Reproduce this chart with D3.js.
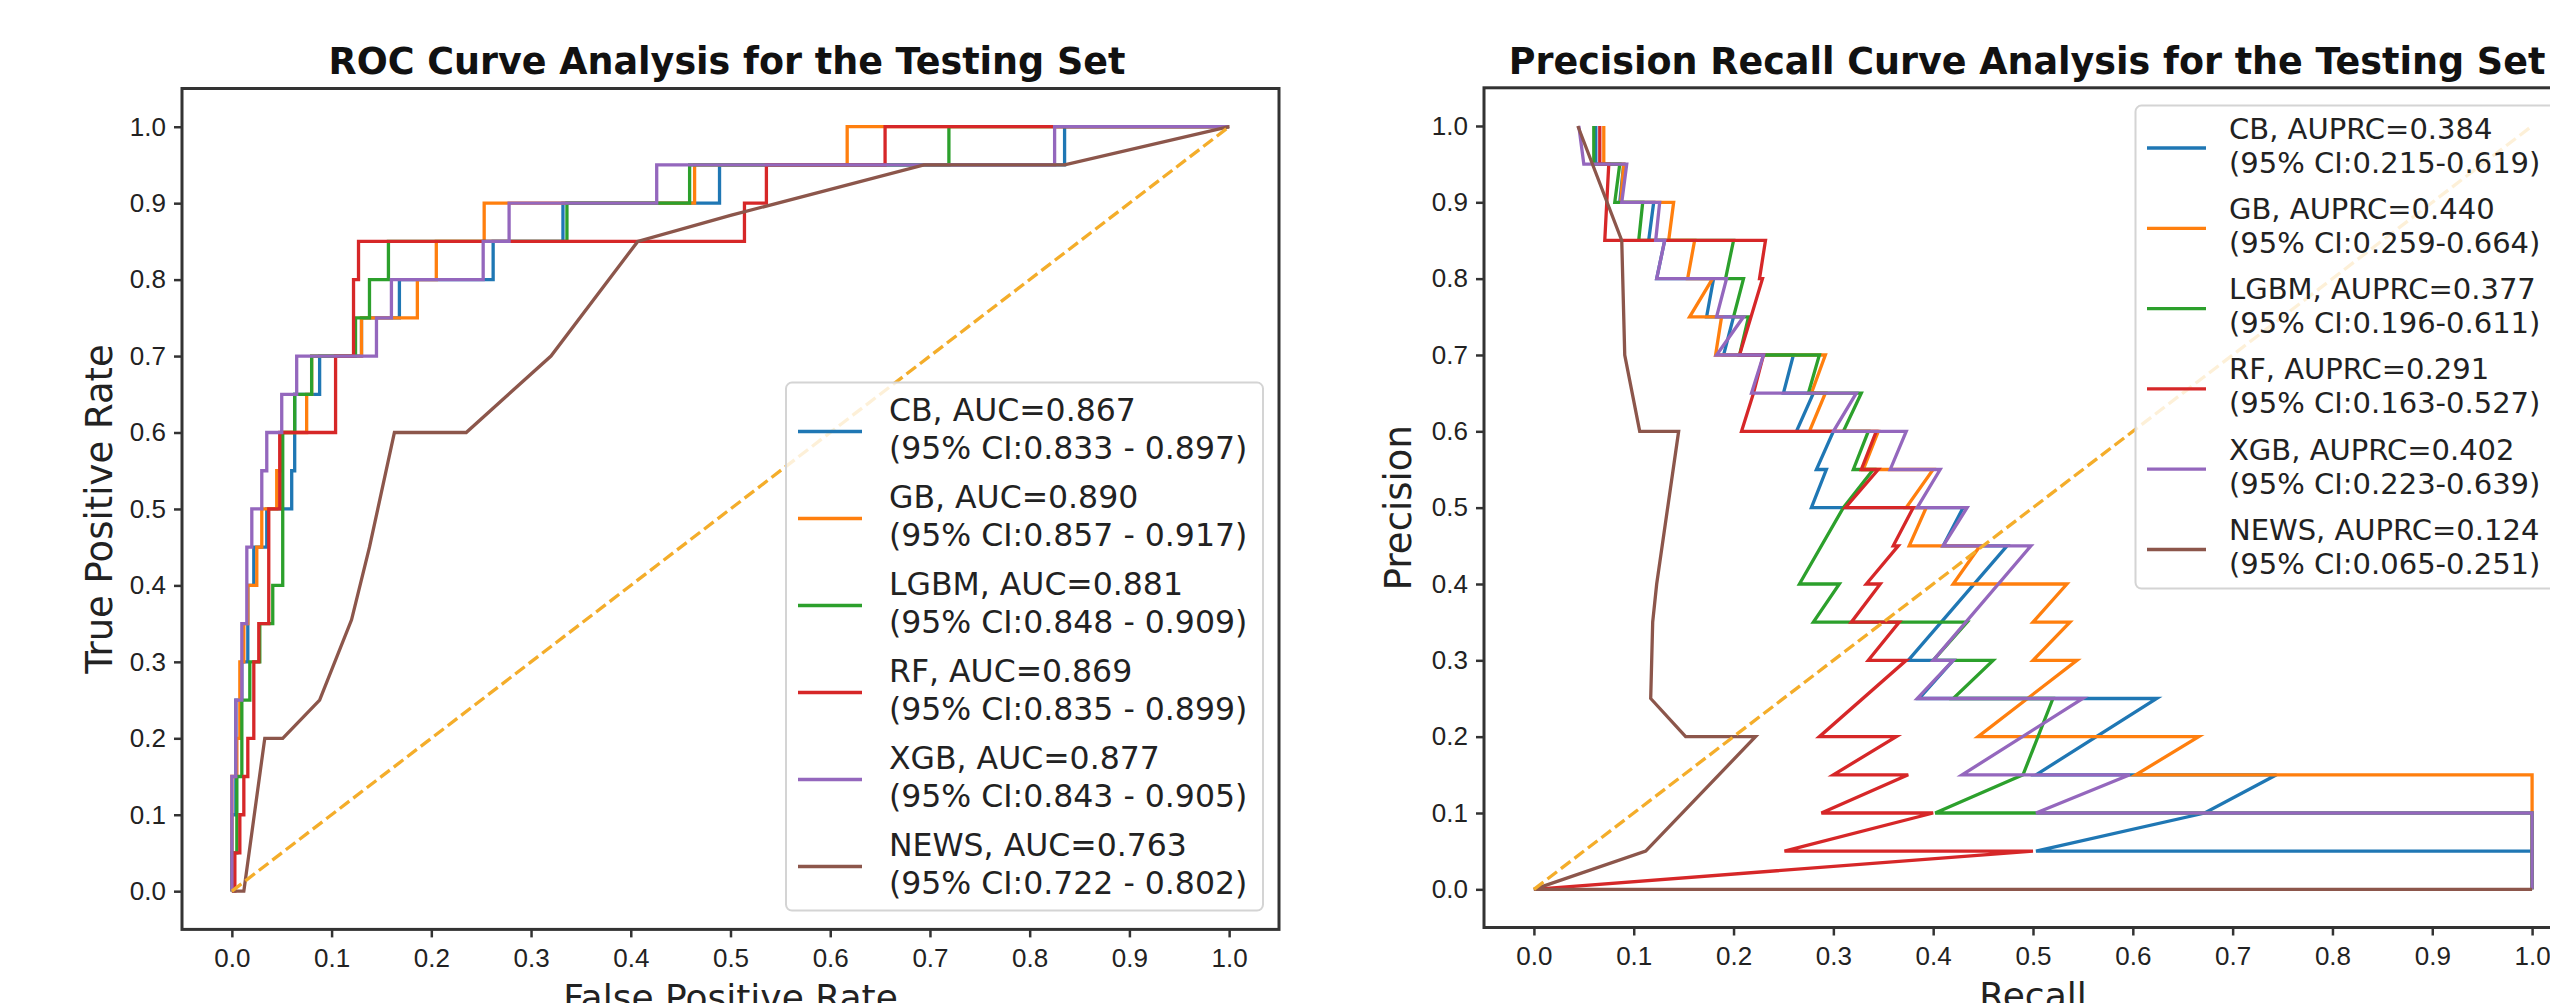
<!DOCTYPE html>
<html>
<head>
<meta charset="utf-8">
<script src="https://cdn.jsdelivr.net/npm/d3@7"></script>
<style>
  body { margin: 0; background: #fff; }
  svg { display: block; font-family: "DejaVu Sans", sans-serif; }
</style>
</head>
<body>
<svg id="chart" width="2550" height="1003"></svg>
<script>
'use strict';

// ROC curves, [fpr, tpr]
const rocCB = [[0,0],[0,0.1],[0.004,0.1],[0.004,0.25],[0.01,0.25],[0.01,0.3],[0.016,0.3],[0.016,0.4],[0.022,0.4],[0.022,0.45],[0.035,0.45],[0.035,0.5],[0.06,0.5],[0.06,0.55],[0.063,0.55],[0.063,0.65],[0.088,0.65],[0.088,0.7],[0.13,0.7],[0.13,0.75],[0.168,0.75],[0.168,0.8],[0.262,0.8],[0.262,0.85],[0.332,0.85],[0.332,0.9],[0.489,0.9],[0.489,0.95],[0.835,0.95],[0.835,1],[1,1]];
const rocGB = [[0,0],[0,0.15],[0.005,0.15],[0.005,0.2],[0.008,0.2],[0.008,0.3],[0.012,0.3],[0.012,0.35],[0.016,0.35],[0.016,0.4],[0.025,0.4],[0.025,0.45],[0.03,0.45],[0.03,0.5],[0.045,0.5],[0.045,0.55],[0.05,0.55],[0.05,0.6],[0.075,0.6],[0.075,0.65],[0.08,0.65],[0.08,0.7],[0.13,0.7],[0.13,0.75],[0.186,0.75],[0.186,0.8],[0.205,0.8],[0.205,0.85],[0.253,0.85],[0.253,0.9],[0.464,0.9],[0.464,0.95],[0.617,0.95],[0.617,1],[1,1]];
const rocLGBM = [[0,0],[0,0.05],[0.005,0.05],[0.005,0.15],[0.01,0.15],[0.01,0.25],[0.018,0.25],[0.018,0.3],[0.028,0.3],[0.028,0.35],[0.041,0.35],[0.041,0.4],[0.051,0.4],[0.051,0.6],[0.063,0.6],[0.063,0.65],[0.08,0.65],[0.08,0.7],[0.124,0.7],[0.124,0.75],[0.138,0.75],[0.138,0.8],[0.157,0.8],[0.157,0.85],[0.336,0.85],[0.336,0.9],[0.459,0.9],[0.459,0.95],[0.719,0.95],[0.719,1],[1,1]];
const rocRF = [[0,0],[0.003,0],[0.003,0.05],[0.008,0.05],[0.008,0.1],[0.012,0.1],[0.012,0.15],[0.016,0.15],[0.016,0.2],[0.022,0.2],[0.022,0.3],[0.027,0.3],[0.027,0.35],[0.037,0.35],[0.037,0.5],[0.048,0.5],[0.048,0.6],[0.104,0.6],[0.104,0.7],[0.122,0.7],[0.122,0.8],[0.127,0.8],[0.127,0.85],[0.514,0.85],[0.514,0.9],[0.536,0.9],[0.536,0.95],[0.655,0.95],[0.655,1],[1,1]];
const rocXGB = [[0,0],[0,0.15],[0.004,0.15],[0.004,0.25],[0.01,0.25],[0.01,0.35],[0.015,0.35],[0.015,0.45],[0.02,0.45],[0.02,0.5],[0.03,0.5],[0.03,0.55],[0.035,0.55],[0.035,0.6],[0.05,0.6],[0.05,0.65],[0.065,0.65],[0.065,0.7],[0.145,0.7],[0.145,0.75],[0.16,0.75],[0.16,0.8],[0.252,0.8],[0.252,0.85],[0.278,0.85],[0.278,0.9],[0.426,0.9],[0.426,0.95],[0.825,0.95],[0.825,1],[1,1]];
const rocNEWS = [[0,0],[0.012,0],[0.033,0.2],[0.051,0.2],[0.088,0.25],[0.12,0.355],[0.138,0.45],[0.163,0.6],[0.235,0.6],[0.32,0.7],[0.407,0.85],[0.5,0.884],[0.694,0.95],[0.835,0.95],[1,1]];

// Precision recall curves, [recall, precision]
const prCB = [[0.062,1],[0.062,0.95],[0.09,0.95],[0.086,0.9],[0.12,0.9],[0.115,0.85],[0.131,0.85],[0.123,0.8],[0.18,0.8],[0.173,0.75],[0.2,0.75],[0.19,0.7],[0.26,0.7],[0.25,0.65],[0.28,0.65],[0.263,0.6],[0.3,0.6],[0.283,0.55],[0.293,0.55],[0.278,0.5],[0.43,0.5],[0.41,0.45],[0.474,0.45],[0.375,0.3],[0.42,0.3],[0.386,0.25],[0.624,0.25],[0.503,0.15],[0.744,0.15],[0.672,0.1],[0.503,0.05],[1,0.05],[1,0]];
const prGB = [[0.07,1],[0.07,0.95],[0.09,0.95],[0.087,0.9],[0.14,0.9],[0.135,0.85],[0.161,0.85],[0.154,0.8],[0.179,0.8],[0.156,0.75],[0.188,0.75],[0.182,0.7],[0.292,0.7],[0.278,0.65],[0.292,0.65],[0.276,0.6],[0.345,0.6],[0.33,0.55],[0.4,0.55],[0.373,0.5],[0.393,0.5],[0.376,0.45],[0.447,0.45],[0.42,0.4],[0.534,0.4],[0.5,0.35],[0.537,0.35],[0.5,0.3],[0.544,0.3],[0.445,0.2],[0.666,0.2],[0.603,0.15],[1,0.15],[1,0]];
const prLGBM = [[0.06,1],[0.06,0.95],[0.086,0.95],[0.081,0.9],[0.109,0.9],[0.105,0.85],[0.2,0.85],[0.192,0.8],[0.21,0.8],[0.2,0.75],[0.215,0.75],[0.206,0.7],[0.286,0.7],[0.275,0.65],[0.328,0.65],[0.31,0.6],[0.335,0.6],[0.32,0.55],[0.34,0.55],[0.31,0.5],[0.266,0.4],[0.306,0.4],[0.28,0.35],[0.434,0.35],[0.4,0.3],[0.46,0.3],[0.42,0.25],[0.52,0.25],[0.49,0.15],[0.402,0.1],[1,0.1],[1,0]];
const prRF = [[0.066,1],[0.066,0.95],[0.075,0.95],[0.071,0.85],[0.232,0.85],[0.226,0.8],[0.229,0.8],[0.206,0.7],[0.23,0.7],[0.22,0.65],[0.208,0.6],[0.343,0.6],[0.328,0.55],[0.345,0.55],[0.312,0.5],[0.38,0.5],[0.36,0.45],[0.365,0.45],[0.333,0.4],[0.347,0.4],[0.318,0.35],[0.366,0.35],[0.335,0.3],[0.373,0.3],[0.286,0.2],[0.363,0.2],[0.3,0.15],[0.375,0.15],[0.288,0.1],[0.4,0.1],[0.251,0.05],[0.5,0.05],[0,0]];
const prXGB = [[0.045,1],[0.05,0.95],[0.093,0.95],[0.088,0.9],[0.126,0.9],[0.122,0.85],[0.131,0.85],[0.123,0.8],[0.193,0.8],[0.183,0.75],[0.21,0.75],[0.183,0.7],[0.23,0.7],[0.218,0.65],[0.323,0.65],[0.3,0.6],[0.373,0.6],[0.357,0.55],[0.407,0.55],[0.384,0.5],[0.434,0.5],[0.41,0.45],[0.498,0.45],[0.4,0.3],[0.42,0.3],[0.384,0.25],[0.55,0.25],[0.429,0.15],[0.597,0.15],[0.503,0.1],[1,0.1],[1,0]];
const prNEWS = [[0.044,1],[0.088,0.85],[0.091,0.7],[0.106,0.6],[0.145,0.6],[0.134,0.5],[0.123,0.4],[0.119,0.35],[0.117,0.25],[0.152,0.2],[0.222,0.2],[0.112,0.05],[0,0],[1,0]];

const modelNames = ["CB", "GB", "LGBM", "RF", "XGB", "NEWS"];
const rocSeries = [rocCB, rocGB, rocLGBM, rocRF, rocXGB, rocNEWS];
const prSeries = [prCB, prGB, prLGBM, prRF, prXGB, prNEWS];
const aucValues = ["0.867", "0.890", "0.881", "0.869", "0.877", "0.763"];
const aucCI = ["0.833 - 0.897", "0.857 - 0.917", "0.848 - 0.909", "0.835 - 0.899", "0.843 - 0.905", "0.722 - 0.802"];
const auprcValues = ["0.384", "0.440", "0.377", "0.291", "0.402", "0.124"];
const auprcCI = ["0.215-0.619", "0.259-0.664", "0.196-0.611", "0.163-0.527", "0.223-0.639", "0.065-0.251"];
const tickValues = [0, 0.1, 0.2, 0.3, 0.4, 0.5, 0.6, 0.7, 0.8, 0.9, 1.0];

const palette = ["#1f77b4", "#ff7f0e", "#2ca02c", "#d62728", "#9467bd", "#8c564b"];

const svg = d3.select("#chart");

function drawPanel(p) {
    const x = d3.scaleLinear().domain([-0.05, 1.05]).range([p.left, p.right]);
    const y = d3.scaleLinear().domain([-0.05, 1.05]).range([p.bottom, p.top]);
    const g = svg.append("g");

    // ticks
    const styleAxis = a => {
        a.select(".domain").remove();
        a.selectAll(".tick line").attr("stroke", "#333").attr("stroke-width", 2.5);
        a.selectAll(".tick text").attr("fill", "#222").style("font-size", "26px").attr("font-family", null);
    };
    g.append("g")
        .attr("transform", `translate(0,${p.bottom})`)
        .call(d3.axisBottom(x).tickValues(tickValues).tickFormat(d3.format(".1f")).tickSize(8).tickPadding(11))
        .call(styleAxis);
    g.append("g")
        .attr("transform", `translate(${p.left},0)`)
        .call(d3.axisLeft(y).tickValues(tickValues).tickFormat(d3.format(".1f")).tickSize(8).tickPadding(8))
        .call(styleAxis);

    const line = d3.line().x(d => x(d[0])).y(d => y(d[1]));

    g.selectAll(".curve").data(p.series).enter().append("path")
        .attr("class", "curve")
        .attr("d", line)
        .attr("fill", "none")
        .attr("stroke", (d, i) => palette[i])
        .attr("stroke-width", 3.3)
        .attr("stroke-linejoin", "miter");

    // chance line
    g.append("path")
        .attr("d", line([[0, 0], [1, 1]]))
        .attr("fill", "none")
        .attr("stroke", "#f4ad2a")
        .attr("stroke-width", 3.3)
        .attr("stroke-dasharray", "12,5");

    // frame
    g.append("rect")
        .attr("x", p.left).attr("y", p.top)
        .attr("width", p.right - p.left).attr("height", p.bottom - p.top)
        .attr("fill", "none").attr("stroke", "#333").attr("stroke-width", 3);

    // legend
    const L = p.legend;
    g.append("rect")
        .attr("x", L.x).attr("y", L.y).attr("width", L.w).attr("height", L.h)
        .attr("rx", 6)
        .attr("fill", "#fff").attr("fill-opacity", 0.82)
        .attr("stroke", "#d4d4d4").attr("stroke-width", 2);
    const item = g.selectAll(".item").data(modelNames).enter().append("g")
        .attr("class", "item")
        .attr("transform", (d, i) => `translate(0,${L.first + i * L.step})`);
    item.append("line")
        .attr("x1", L.h1).attr("x2", L.h2)
        .attr("y1", L.handleDy).attr("y2", L.handleDy)
        .attr("stroke", (d, i) => palette[i]).attr("stroke-width", 3.3);
    item.append("text")
        .attr("x", L.tx).attr("y", 0.365 * L.fs)
        .style("font-size", L.fs + "px").attr("fill", "#222")
        .text((d, i) => p.line1(d, i));
    item.append("text")
        .attr("x", L.tx).attr("y", L.gap + 0.365 * L.fs)
        .style("font-size", L.fs + "px").attr("fill", "#222")
        .text((d, i) => p.line2(d, i));

    // titles
    g.append("text")
        .attr("x", p.titleX).attr("y", 74)
        .attr("text-anchor", "middle")
        .style("font-size", "36.5px").style("font-weight", "bold").attr("fill", "#111")
        .text(p.title);
    // x label sits low, partly past the bottom edge as in the source image
    g.append("text")
        .attr("x", (p.left + p.right) / 2).attr("y", p.xlabelY)
        .attr("text-anchor", "middle")
        .style("font-size", "36px").attr("fill", "#222")
        .text(p.xlabel);
    g.append("text")
        .attr("transform", `translate(${p.ylabelX},${(p.top + p.bottom) / 2}) rotate(-90)`)
        .attr("text-anchor", "middle")
        .style("font-size", "37px").attr("fill", "#222")
        .text(p.ylabel);
}

drawPanel({
    left: 182, right: 1279, top: 88.5, bottom: 929.4,
    series: rocSeries,
    title: "ROC Curve Analysis for the Testing Set", titleX: 727,
    xlabel: "False Positive Rate", xlabelY: 1010,
    ylabel: "True Positive Rate", ylabelX: 112,
    legend: {x: 786, y: 382.6, w: 477, h: 528, h1: 798, h2: 862, tx: 889,
             first: 409.5, gap: 38.5, step: 87, fs: 31.5, handleDy: 22},
    line1: (d, i) => `${d}, AUC=${aucValues[i]}`,
    line2: (d, i) => `(95% CI:${aucCI[i]})`
});

drawPanel({
    left: 1484, right: 2582, top: 87.8, bottom: 927.5,
    series: prSeries,
    title: "Precision Recall Curve Analysis for the Testing Set", titleX: 2027,
    xlabel: "Recall", xlabelY: 1008,
    ylabel: "Precision", ylabelX: 1411,
    legend: {x: 2135.5, y: 105.6, w: 470, h: 483, h1: 2147, h2: 2206, tx: 2229,
             first: 128, gap: 34, step: 80.3, fs: 29, handleDy: 20},
    line1: (d, i) => `${d}, AUPRC=${auprcValues[i]}`,
    line2: (d, i) => `(95% CI:${auprcCI[i]})`
});
</script>
</body>
</html>
